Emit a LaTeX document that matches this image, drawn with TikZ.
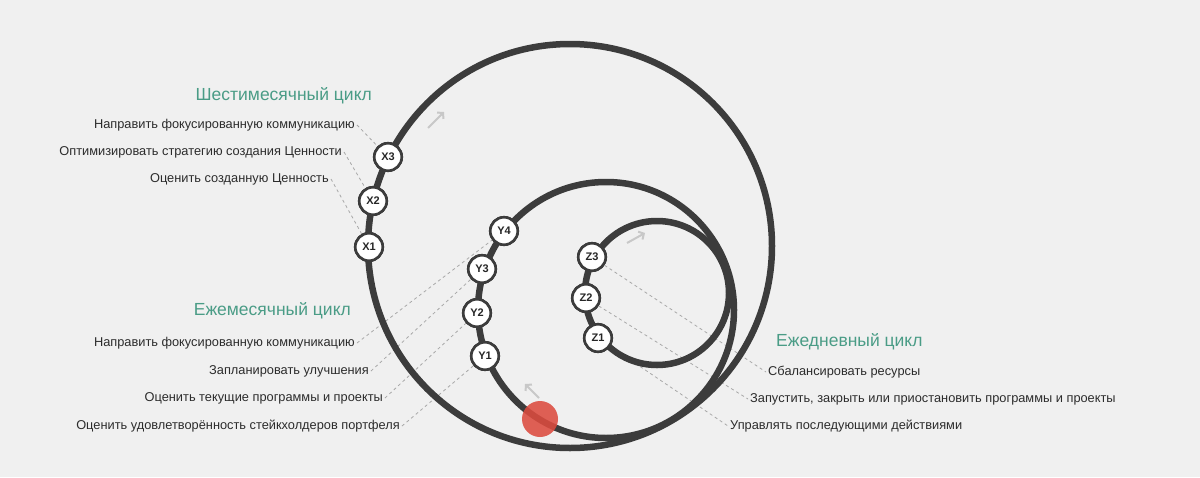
\documentclass[tikz,border=0pt]{standalone}
\usepackage{fontspec}
\setmainfont{Liberation Sans}
\usetikzlibrary{arrows.meta}
\definecolor{bg}{HTML}{F0F0F0}
\definecolor{ring}{HTML}{3C3C3C}
\definecolor{ttl}{HTML}{4A9C86}
\definecolor{txt}{HTML}{2C2C2C}
\definecolor{dsh}{HTML}{A8A8A8}
\definecolor{agrey}{HTML}{C8C8C8}
\definecolor{dotred}{HTML}{DC4B3F}
\tikzset{
  ringline/.style={draw=ring, line width=6.5pt},
  stop/.style={circle, draw=ring, line width=2.6pt, fill=white, minimum size=27.5pt, inner sep=0pt,
    font=\bfseries\fontsize{11}{12}\selectfont, text=black!85},
  lab/.style={font=\fontsize{12.8}{14}\selectfont, text=txt, inner sep=2pt, text height=7pt, text depth=0pt},
  ttlstyle/.style={font=\fontsize{17.5}{19}\selectfont, text=ttl, inner sep=0pt},
  conn/.style={draw=dsh, line width=0.8pt, dash pattern=on 3pt off 3pt},
  flow/.style={draw=agrey, line width=2pt, -{Straight Barb[length=4pt,width=9pt]}}
}
\begin{document}
\begin{tikzpicture}[x=1pt,y=-1pt]
\fill[bg] (0,0) rectangle (1200,477);
\useasboundingbox (0,0) rectangle (1200,477);

% stations
\node[stop] (X3) at (388,157) {X3};
\node[stop] (X2) at (373,201) {X2};
\node[stop] (X1) at (369,247) {X1};
\node[stop] (Y4) at (504,231) {Y4};
\node[stop] (Y3) at (482,269) {Y3};
\node[stop] (Y2) at (477,313) {Y2};
\node[stop] (Y1) at (485,356) {Y1};
\node[stop] (Z3) at (592,257) {Z3};
\node[stop] (Z2) at (586,298) {Z2};
\node[stop] (Z1) at (598,338) {Z1};

% titles
\node[ttlstyle, anchor=east] (t6) at (372,96) {Шестимесячный цикл};
\node[ttlstyle, anchor=east] (tm) at (351,311) {Ежемесячный цикл};
\node[ttlstyle, anchor=west] (td) at (776,342) {Ежедневный цикл};

% labels
\node[lab, anchor=east] (a3) at (357,125) {Направить фокусированную коммуникацию};
\node[lab, anchor=east] (a2) at (344,152) {Оптимизировать стратегию создания Ценности};
\node[lab, anchor=east] (a1) at (331,179) {Оценить созданную Ценность};

\node[lab, anchor=east] (b4) at (357,343) {Направить фокусированную коммуникацию};
\node[lab, anchor=east] (b3) at (371,371) {Запланировать улучшения};
\node[lab, anchor=east] (b2) at (385,398) {Оценить текущие программы и проекты};
\node[lab, anchor=east] (b1) at (402,426) {Оценить удовлетворённость стейкхолдеров портфеля};

\node[lab, anchor=west] (c3) at (766,372) {Сбалансировать ресурсы};
\node[lab, anchor=west] (c2) at (748,399) {Запустить, закрыть или приостановить программы и проекты};
\node[lab, anchor=west] (c1) at (728,426) {Управлять последующими действиями};

% dashed connectors (below rings)
\path[conn] (a3.east) -- (X3);
\path[conn] (a2.east) -- (X2);
\path[conn] (a1.east) -- (X1);
\path[conn] (b4.east) -- (Y4);
\path[conn] (b3.east) -- (Y3);
\path[conn] (b2.east) -- (Y2);
\path[conn] (b1.east) -- (Y1);
\path[conn] (Z3) -- (c3.west);
\path[conn] (Z2) -- (c2.west);
\path[conn] (Z1) -- (c1.west);

% rings
\coordinate (co) at (570,246);
\coordinate (cm) at (606,310);
\coordinate (ci) at (657,293);
\draw[ringline] (co) circle[radius=202pt];
\draw[ringline] (cm) circle[radius=128pt];
\draw[ringline] (ci) circle[radius=72pt];

% redraw stations on top
\foreach \n/\p in {X3/{(388,157)},X2/{(373,201)},X1/{(369,247)},Y4/{(504,231)},Y3/{(482,269)},Y2/{(477,313)},Y1/{(485,356)},Z3/{(592,257)},Z2/{(586,298)},Z1/{(598,338)}}
  \node[stop] at \p {\n};

% start dot
\node[circle, fill=dotred, fill opacity=0.88, minimum size=36pt, inner sep=0pt] (start) at (540,419) {};

% direction arrows
\coordinate (f1s) at (428,128); \coordinate (f1e) at (444,112);
\coordinate (f2s) at (627,243); \coordinate (f2e) at (645,233);
\coordinate (f3s) at (539,398); \coordinate (f3e) at (525,384);
\draw[flow] (f1s) -- (f1e);
\draw[flow] (f2s) -- (f2e);
\draw[flow] (f3s) -- (f3e);
\end{tikzpicture}
\end{document}
